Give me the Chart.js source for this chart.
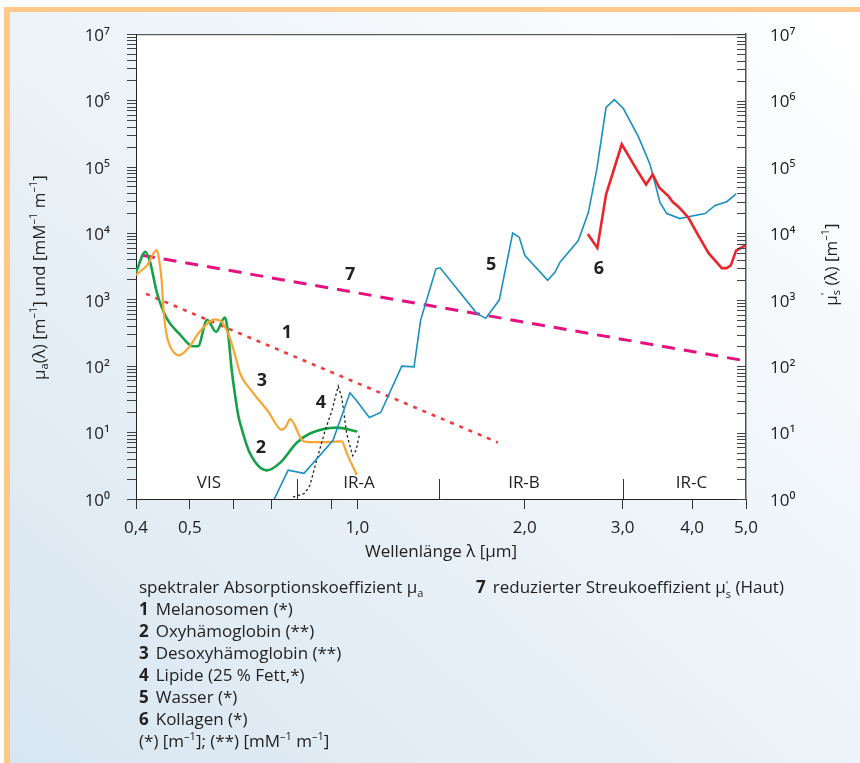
<!DOCTYPE html>
<html lang="de">
<head>
<meta charset="utf-8">
<title>Absorptions- und Streukoeffizienten</title>
<script src="https://cdn.jsdelivr.net/npm/chart.js@4.4.1/dist/chart.umd.min.js"></script>
<style>
  html, body { margin: 0; padding: 0; background: #fff; }
  body { width: 860px; height: 763px; position: relative; overflow: hidden; font-family: "Open Sans", sans-serif; color: #222; }
  #card { position: absolute; left: 4px; top: 7px; width: 850px; height: 751px;
          border-left: 6px solid #fec98b; border-top: 5px solid #fec98b;
          background: linear-gradient(to bottom left, #ffffff 0%, #eef4f9 45%, #d8e6f1 100%); }
  #chartBox { position: absolute; left: 0; top: 0; width: 860px; height: 580px; }
  #legend { position: absolute; top: 576px; left: 0; font-size: 17px; line-height: 22px; }
  .col { position: absolute; top: 0; white-space: nowrap; }
  .num { font-weight: bold; margin-right: 7px; }
  sub, sup { font-size: 11px; line-height: 0; }
  .stack { display: inline-block; vertical-align: -5px; line-height: 9px; font-size: 11px; text-align: left; }
</style>
</head>
<body>
<div id="card"></div>
<div id="chartBox"><canvas id="chart" width="860" height="580"></canvas></div>
<div id="legend">
  <div class="col" style="left:139px">
    <div>spektraler Absorptionskoeffizient μ<sub>a</sub></div>
    <div><span class="num">1</span>Melanosomen (*)</div>
    <div><span class="num">2</span>Oxyhämoglobin (**)</div>
    <div><span class="num">3</span>Desoxyhämoglobin (**)</div>
    <div><span class="num">4</span>Lipide (25 % Fett,*)</div>
    <div><span class="num">5</span>Wasser (*)</div>
    <div><span class="num">6</span>Kollagen (*)</div>
    <div>(*) [m<sup>–1</sup>]; (**) [mM<sup>–1</sup> m<sup>–1</sup>]</div>
  </div>
  <div class="col" style="left:476px">
    <div><span class="num">7</span>reduzierter Streukoeffizient μ<span class="stack">'<br>s</span> (Haut)</div>
  </div>
</div>
<script>
// wavelengths in µm, coefficients in m^-1 or mM^-1 m^-1

// 1 Melanosomen
const melanoWl = [0.417, 1.79];
const melanoMu = [1230, 7.1];

// 2 Oxyhämoglobin
const oxyWl = [0.400, 0.416, 0.424, 0.436, 0.454, 0.480, 0.506, 0.517, 0.537, 0.557, 0.578, 0.586, 0.594, 0.603, 0.611, 0.621, 0.641, 0.688, 0.726, 0.779, 0.822, 0.919, 1.0];
const oxyMu = [2600, 5300, 3700, 1300, 530, 300, 200, 200, 500, 330, 540, 300, 94, 36, 18, 10.7, 4.9, 2.7, 3.5, 7.1, 9.7, 11.9, 10.4];

// 3 Desoxyhämoglobin
const desoxyWl = [0.400, 0.419, 0.436, 0.440, 0.445, 0.448, 0.454, 0.464, 0.478, 0.497, 0.521, 0.555, 0.570, 0.590, 0.607, 0.615, 0.646, 0.691, 0.731, 0.744, 0.757, 0.800, 0.822, 0.881, 0.938, 0.957, 0.998];
const desoxyMu = [2360, 3330, 5580, 4130, 1860, 740, 300, 178, 146, 188, 333, 508, 470, 264, 119, 79, 42, 21, 11, 12.3, 16, 7.4, 7.2, 7.2, 7.4, 4.9, 2.3];

// 4 Lipide
const lipidWl = [0.766, 0.805, 0.822, 0.845, 0.875, 0.900, 0.924, 0.938, 0.957, 0.981, 0.995, 1.008];
const lipidMu = [1.07, 1.22, 1.62, 3.8, 10.7, 21.3, 50, 33.6, 9.6, 4.5, 5.4, 9.0];

// 5 Wasser
const waterWl = [0.708, 0.751, 0.802, 0.904, 0.970, 0.998, 1.051, 1.102, 1.202, 1.265, 1.300, 1.385, 1.409, 1.640, 1.702, 1.800, 1.903, 1.956, 2.002, 2.200, 2.268, 2.315, 2.497, 2.603, 2.695, 2.801, 2.899, 3.009, 3.202, 3.362, 3.503, 3.602, 3.805, 4.020, 4.221, 4.400, 4.617, 4.799];
const waterMu = [0.97, 2.71, 2.44, 7.6, 39.7, 30, 16.9, 20.1, 100, 97.6, 498, 2930, 3030, 625, 526, 990, 10100, 8700, 4650, 1970, 2620, 3690, 7780, 20600, 91200, 787000, 1035000, 760000, 287000, 108000, 29000, 19900, 16700, 18400, 19900, 26400, 30000, 39500];

// 6 Kollagen
const collagenWl = [2.597, 2.702, 2.801, 2.887, 2.989, 3.180, 3.306, 3.398, 3.493, 3.626, 3.692, 3.779, 3.938, 4.077, 4.280, 4.523, 4.617, 4.695, 4.799, 5.0];
const collagenMu = [9770, 6040, 38600, 86300, 220000, 91200, 54400, 76700, 48600, 36500, 29700, 25300, 17300, 10300, 5080, 3000, 3000, 3300, 5520, 6690];

// 7 reduzierter Streukoeffizient (Haut)
const scatterWl = [0.41, 5.0];
const scatterMu = [4700, 120];

// curve numbers placed in the plot
const curveNames = ['1', '2', '3', '4', '5', '6', '7'];
const curveNameWl = [0.747, 0.671, 0.674, 0.860, 1.740, 2.72, 0.971];
const curveNameMu = [322, 5.97, 59.7, 28, 3330, 2900, 2360];

// spectral bands
const bandNames = ['VIS', 'IR-A', 'IR-B', 'IR-C'];
const bandNameWl = [0.541, 1.007, 1.994, 3.99];
const bandNameMu = 1.75;
const bandEdges = [0.78, 1.4, 3.0];

// axis ticks
const xTickValues = [0.4, 0.5, 0.6, 0.7, 0.9, 1, 2, 3, 4, 5];
const xLabelValues = [0.4, 0.5, 1, 2, 3, 4, 5];
const decades = [1, 10, 100, 1e3, 1e4, 1e5, 1e6, 1e7];
const supDigits = ['⁰', '¹', '²', '³', '⁴', '⁵', '⁶', '⁷'];

const yTickValues = [];
decades.slice(0, -1).forEach(d => { for (let m = 1; m < 10; m++) yTickValues.push(m * d); });
yTickValues.push(1e7);

const toPoints = (wl, mu) => wl.map((x, i) => ({ x: x, y: mu[i] }));
const FONT = '"Open Sans", sans-serif';
const INK = '#222';

Chart.defaults.font.family = FONT;
Chart.defaults.font.size = 17;
Chart.defaults.color = INK;

const decadeLabel = (v) => {
    const i = decades.indexOf(v);
    return i >= 0 ? '10' + supDigits[i] : '';
};

// draw text with sub/superscript parts, centred on (x, y)
// part: [text, 0 normal | 1 sup | 2 sub, noAdvance]
const drawRich = (ctx, parts, x, y, size) => {
    const small = Math.round(size * 0.64);
    let w = 0;
    parts.forEach(p => {
        ctx.font = (p[1] ? small : size) + 'px ' + FONT;
        if (!p[2]) w += ctx.measureText(p[0]).width;
    });
    let cx = x - w / 2;
    parts.forEach(p => {
        ctx.font = (p[1] ? small : size) + 'px ' + FONT;
        const dy = p[1] === 1 ? -size * 0.36 : (p[1] === 2 ? size * 0.3 : 0);
        ctx.fillText(p[0], cx, y + dy);
        if (!p[2]) cx += ctx.measureText(p[0]).width;
    });
};

const leftTitle = [['μ', 0], ['a', 2], ['(λ) [m', 0], ['–1', 1], ['] und [mM', 0], ['–1', 1], [' m', 0], ['–1', 1], [']', 0]];
const rightTitle = [['μ', 0], ["'", 1, true], ['s', 2], [' (λ) [m', 0], ['–1', 1], [']', 0]];

const decorPlugin = {
    id: 'decor',
    beforeDraw(chart) {
        const { ctx, chartArea: a } = chart;
        ctx.save();
        ctx.fillStyle = '#fff';
        ctx.fillRect(a.left, a.top, a.right - a.left, a.bottom - a.top);
        ctx.restore();
    },
    afterDraw(chart) {
        const { ctx, chartArea: a, scales } = chart;
        const x = scales.x, y = scales.y, y2 = scales.y2;
        ctx.save();
        // frame top
        ctx.strokeStyle = '#333';
        ctx.lineWidth = 1;
        ctx.beginPath();
        ctx.moveTo(a.left, a.top + 0.5);
        ctx.lineTo(a.right, a.top + 0.5);
        ctx.stroke();
        // right axis ticks pointing inwards
        ctx.strokeStyle = '#444';
        y2.ticks.forEach(t => {
            const py = Math.round(y2.getPixelForValue(t.value)) + 0.5;
            ctx.beginPath();
            ctx.moveTo(a.right - 9, py);
            ctx.lineTo(a.right, py);
            ctx.stroke();
        });
        // band edges
        ctx.strokeStyle = '#333';
        bandEdges.forEach(v => {
            const px = Math.round(x.getPixelForValue(v)) + 0.5;
            ctx.beginPath();
            ctx.moveTo(px, a.bottom - 20);
            ctx.lineTo(px, a.bottom);
            ctx.stroke();
        });
        ctx.fillStyle = INK;
        ctx.textBaseline = 'middle';
        ctx.textAlign = 'center';
        ctx.font = '17px ' + FONT;
        bandNames.forEach((n, i) => {
            ctx.fillText(n, x.getPixelForValue(bandNameWl[i]), y.getPixelForValue(bandNameMu));
        });
        ctx.font = 'bold 18px ' + FONT;
        curveNames.forEach((n, i) => {
            ctx.fillText(n, x.getPixelForValue(curveNameWl[i]), y.getPixelForValue(curveNameMu[i]));
        });
        // axis titles
        ctx.textAlign = 'left';
        ctx.save();
        ctx.translate(40, (a.top + a.bottom) / 2 + 11);
        ctx.rotate(-Math.PI / 2);
        drawRich(ctx, leftTitle, 0, 0, 17);
        ctx.restore();
        ctx.save();
        ctx.translate(832, (a.top + a.bottom) / 2 - 2);
        ctx.rotate(-Math.PI / 2);
        drawRich(ctx, rightTitle, 0, 0, 17);
        ctx.restore();
        ctx.restore();
    }
};

const line = (label, wl, mu, color, width, dash, smooth) => ({
    label: label,
    data: toPoints(wl, mu),
    borderColor: color,
    borderWidth: width,
    borderDash: dash,
    pointRadius: 0,
    fill: false,
    tension: smooth ? 0.4 : 0,
    cubicInterpolationMode: smooth ? 'monotone' : 'default'
});

new Chart(document.getElementById('chart'), {
    type: 'line',
    data: {
        datasets: [
            line('Kollagen', collagenWl, collagenMu, '#e8262b', 2.6, [], false),
            line('Wasser', waterWl, waterMu, '#1a8fc1', 1.6, [], false),
            line('Lipide', lipidWl, lipidMu, '#222', 1.3, [2.5, 2.5], false),
            line('Desoxyhämoglobin', desoxyWl, desoxyMu, '#f7a533', 2.2, [], true),
            line('Oxyhämoglobin', oxyWl, oxyMu, '#17a048', 2.6, [], true),
            line('Melanosomen', melanoWl, melanoMu, '#f03a3c', 2.6, [4, 6], false),
            line('Streukoeffizient', scatterWl, scatterMu, '#e6117f', 3, [13, 9], false)
        ]
    },
    options: {
        responsive: false,
        animation: false,
        parsing: true,
        layout: { padding: { left: 0, right: 0, top: 30, bottom: 0 } },
        plugins: { legend: { display: false }, tooltip: { enabled: false } },
        scales: {
            x: {
                type: 'logarithmic',
                min: 0.4,
                max: 5,
                afterBuildTicks: s => { s.ticks = xTickValues.map(v => ({ value: v })); },
                afterFit: s => { s.height = 81; },
                ticks: {
                    autoSkip: false,
                    maxRotation: 0,
                    padding: 9,
                    color: INK,
                    callback: v => xLabelValues.includes(v) ? v.toFixed(1).replace('.', ',') : ''
                },
                grid: { drawOnChartArea: false, tickLength: 10, color: '#333' },
                border: { color: '#222', width: 1 },
                title: { display: true, text: 'Wellenlänge λ [µm]', color: INK, padding: { top: 0, bottom: 18 } }
            },
            y: {
                type: 'logarithmic',
                position: 'left',
                min: 1,
                max: 1e7,
                afterBuildTicks: s => { s.ticks = yTickValues.map(v => ({ value: v })); },
                afterFit: s => { s.width = 136; },
                ticks: { autoSkip: false, padding: 17, labelOffset: 2, color: INK, callback: decadeLabel },
                grid: { drawOnChartArea: false, tickLength: 9, color: '#444' },
                border: { color: '#222', width: 1 }
            },
            y2: {
                type: 'logarithmic',
                position: 'right',
                min: 1,
                max: 1e7,
                afterBuildTicks: s => { s.ticks = yTickValues.map(v => ({ value: v })); },
                afterFit: s => { s.width = 114; },
                ticks: { autoSkip: false, padding: 24, labelOffset: 2, color: INK, callback: decadeLabel },
                grid: { display: false, drawTicks: false },
                border: { color: '#555', width: 1.5 }
            }
        }
    },
    plugins: [decorPlugin]
});
</script>
</body>
</html>
